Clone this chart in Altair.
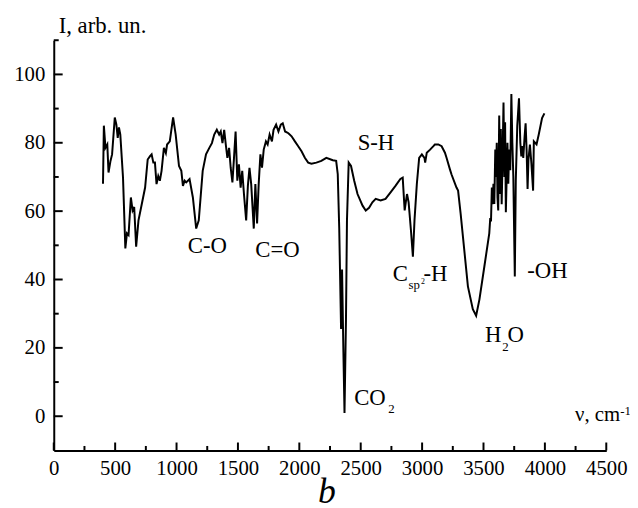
import altair as alt
import pandas as pd

# IR spectrum
wavenumber = [401, 408, 421, 436, 446, 462, 475, 497, 510, 521, 531, 542, 564, 583, 596, 609, 628, 642, 655, 671,
              690, 717, 744, 765, 784, 797, 811, 824, 837, 851, 864, 878, 897, 913, 923, 945, 972, 993, 1020, 1039,
              1052, 1066, 1079, 1106, 1133, 1160, 1181, 1213, 1240, 1267, 1288, 1307, 1328, 1347, 1360, 1374, 1388,
              1401, 1414, 1428, 1441, 1455, 1468, 1481, 1495, 1508, 1522, 1535, 1549, 1567, 1581, 1594, 1608, 1629,
              1642, 1656, 1669, 1683, 1696, 1710, 1728, 1742, 1758, 1777, 1790, 1811, 1830, 1849, 1865, 1884, 1911,
              1937, 1964, 1991, 2018, 2045, 2072, 2099, 2139, 2179, 2220, 2273, 2300, 2313, 2325, 2340, 2348, 2359,
              2368, 2380, 2388, 2402, 2421, 2447, 2474, 2515, 2541, 2568, 2595, 2622, 2662, 2702, 2743, 2783, 2823,
              2842, 2858, 2869, 2877, 2890, 2909, 2925, 2938, 2957, 2976, 2998, 3019, 3025, 3038, 3065, 3092, 3104,
              3132, 3159, 3186, 3199, 3226, 3239, 3280, 3293, 3314, 3346, 3373, 3413, 3440, 3467, 3507, 3547, 3555,
              3561, 3568, 3574, 3581, 3588, 3596, 3601, 3608, 3614, 3620, 3628, 3635, 3641, 3648, 3655, 3663, 3670,
              3676, 3682, 3690, 3695, 3702, 3709, 3718, 3727, 3735, 3743, 3755, 3763, 3775, 3789, 3800, 3808, 3816,
              3824, 3835, 3843, 3851, 3859, 3866, 3878, 3890, 3904, 3910, 3932, 3950, 3977, 3996]
intensity = [68, 85, 78.5, 79.5, 71.3, 74.7, 76.6, 87.4, 85.3, 81.4, 84.5, 82.4, 69.8, 49.1, 53.5, 53, 64, 60.2, 61.2, 49.6,
             57.3, 62.1, 66.9, 75.1, 76.1, 76.6, 74.2, 74.2, 67.9, 70.3, 68.9, 71.8, 78.5, 77, 79.5, 80.4, 87.4, 82.4, 73.2, 71.8,
             67.4, 68.9, 68.4, 69.4, 64, 54.9, 57.3, 71.8, 76.6, 78.5, 79.9, 82.4, 83.8, 82.4, 83.3, 79.9, 83.8,
             79.5, 75.6, 78.5, 72.7, 68.4, 75.6, 83.3, 68.9, 73.7, 66.9, 71.8, 65, 57.3, 67.4, 72.7, 67.9, 54.9,
             67.9, 56.4, 67.9, 76.6, 72.7, 78, 80.4, 79.5, 82.4, 80.4, 83.8, 85.3, 83.3, 85.3, 85.7, 83.3, 82.8,
             81.9, 80.4, 79, 77.5, 75.6, 74.2, 73.9, 74.2, 74.7, 75.6, 74.9, 74.7, 70.8, 55, 25.5, 42.9, 18.8,
             0.95, 28.4, 57.3, 74.2, 73.2, 68.9, 65, 61.6, 60.2, 61, 62.6, 63.6, 63.1, 63.6, 65.5, 67.4, 69.4,
             69.8, 60.2, 63.1, 65, 62.6, 54.4, 46.7, 57.3, 67.9, 75.6, 76.6, 75.6, 74.2, 77.1, 78, 79, 79.5,
             79.5, 79, 77.1, 75.6, 72.3, 70.8, 66.9, 66, 59.2, 47.7, 38, 31.3, 29.4, 34.2, 43.8, 53.5, 58,
             57, 66.9, 62, 68, 62.1, 78, 70, 80, 64, 60.2, 88, 65, 84, 62, 75, 91.8, 70,
             86, 59.7, 72, 80, 68, 78, 72, 94.3, 80, 70, 40.9, 68.9, 85, 93, 80, 76, 79,
             75.6, 82, 85.7, 78, 66.5, 75, 79.5, 74, 66, 80.4, 79.5, 82.4, 87.2, 88.6]

x_major = [0, 500, 1000, 1500, 2000, 2500, 3000, 3500, 4000, 4500]
x_minor = [250, 750, 1250, 1750, 2250, 2750, 3250, 3750, 4250]
y_major = [0, 20, 40, 60, 80, 100]
y_minor = [10, 30, 50, 70, 90, 110]

# annotations (text, x, y in data units, font size)
label_text = ["C-O", "C=O", "S-H", "C", "sp", "2", "-H", "-OH", "H", "2", "O", "CO", "2",
              "\u03bd, cm", "-1", "I, arb. un."]
label_x = [1092, 1642, 2475, 2761, 2890, 2990, 3011, 3856, 3513, 3652, 3695, 2447, 2724,
           4246, 4613, 40]
label_y = [47.9, 46.7, 78.0, 39.7, 37.1, 38.7, 39.7, 40.5, 21.8, 19.2, 21.8, 3.35, 0.95,
           -1.45, 0.4, 112.2]
label_size = [23, 23, 23, 23, 13, 8, 23, 23, 23, 13, 23, 23, 13, 21, 13, 23]

panel_text = ["b"]
panel_x = [2153]
panel_y = [-25.3]

W, H = 559, 415
FONT = "'Liberation Serif', 'Times New Roman', Times, serif"

spec = pd.DataFrame({"wn": wavenumber, "I": intensity})
labels = pd.DataFrame({"t": label_text, "x": label_x, "y": label_y, "s": label_size})
panel = pd.DataFrame({"t": panel_text, "x": panel_x, "y": panel_y})

xscale = alt.Scale(domain=[0, 4500], nice=False, zero=False)
yscale = alt.Scale(domain=[-10, 110], nice=False, zero=False)

line = alt.Chart(spec).mark_line(color="black", strokeWidth=2).encode(
    x=alt.X("wn:Q", scale=xscale,
            axis=alt.Axis(values=x_major, format="d", title=None, ticks=False, tickSize=0, grid=False,
                          labelPadding=7, domainWidth=2, domainColor="black", labelFlush=False)),
    y=alt.Y("I:Q", scale=yscale,
            axis=alt.Axis(values=y_major, format="d", title=None, ticks=False, tickSize=0, grid=False,
                          labelPadding=9, domainWidth=2, domainColor="black")),
)

xt_major = alt.Chart(pd.DataFrame({"v": x_major})).mark_rule(color="black", strokeWidth=2).encode(
    x=alt.X("v:Q", scale=xscale), y=alt.value(H), y2=alt.value(H - 8))
xt_minor = alt.Chart(pd.DataFrame({"v": x_minor})).mark_rule(color="black", strokeWidth=2).encode(
    x=alt.X("v:Q", scale=xscale), y=alt.value(H), y2=alt.value(H - 4.5))
yt_major = alt.Chart(pd.DataFrame({"v": y_major})).mark_rule(color="black", strokeWidth=2).encode(
    y=alt.Y("v:Q", scale=yscale), x=alt.value(0), x2=alt.value(9))
yt_minor = alt.Chart(pd.DataFrame({"v": y_minor})).mark_rule(color="black", strokeWidth=2).encode(
    y=alt.Y("v:Q", scale=yscale), x=alt.value(0), x2=alt.value(5))

text = alt.Chart(labels).mark_text(font=FONT, color="black", align="left", baseline="alphabetic").encode(
    x=alt.X("x:Q", scale=xscale), y=alt.Y("y:Q", scale=yscale),
    text="t:N", size=alt.Size("s:Q", scale=None, legend=None))

ptext = alt.Chart(panel).mark_text(font=FONT, color="black", align="left", baseline="alphabetic",
                                   fontStyle="italic", fontSize=36).encode(
    x=alt.X("x:Q", scale=xscale), y=alt.Y("y:Q", scale=yscale), text="t:N")

chart = alt.layer(line, xt_major, xt_minor, yt_major, yt_minor, text, ptext).properties(
    width=W, height=H,
    autosize=alt.AutoSizeParams(type="none"),
    padding={"left": 46.3, "top": 29.7, "right": 24, "bottom": 52},
    background="white",
).configure_view(stroke=None).configure_axis(
    labelFont=FONT, labelFontSize=21, labelColor="black"
)

chart.save("out.html", embed_options={"renderer": "svg", "actions": False})
